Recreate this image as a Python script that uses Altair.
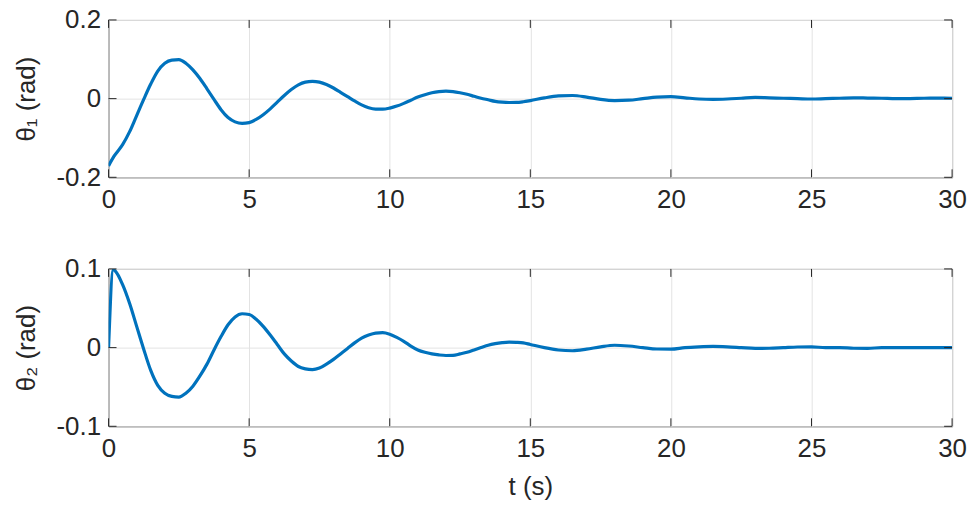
import altair as alt
import pandas as pd

# ---- data ----
t1 = [0, 0.19, 0.5, 0.75, 1.0, 1.25, 1.5, 1.75, 2.0, 2.25, 2.5, 2.75, 3.0, 3.25, 3.5, 3.75,
      4.0, 4.25, 4.5, 4.75, 5.0, 5.25, 5.5, 5.75, 6.0, 6.25, 6.5, 6.75, 7.0, 7.25, 7.5, 7.75,
      8.0, 8.25, 8.5, 8.75, 9.0, 9.25, 9.5, 9.75, 10.0, 10.25, 10.5, 10.75, 11.0, 11.25, 11.5,
      11.75, 12.0, 12.25, 12.5, 12.75, 13.0, 13.25, 13.5, 13.75, 14.0, 14.25, 14.5, 14.75,
      15.0, 15.5, 16.0, 16.5, 17.0, 17.5, 18.0, 18.5, 19.0, 19.5, 20.0, 20.5, 21.0, 21.5,
      22.0, 22.5, 23.0, 23.5, 24.0, 24.5, 25.0, 25.5, 26.0, 26.5, 27.0, 27.5, 28.0, 28.5,
      29.0, 29.5, 30.0]
theta1 = [-0.171, -0.147, -0.117, -0.084, -0.043, -0.002, 0.037, 0.070, 0.090, 0.098, 0.099,
          0.090, 0.073, 0.051, 0.025, -0.002, -0.028, -0.048, -0.059, -0.063, -0.061, -0.053,
          -0.041, -0.026, -0.009, 0.008, 0.023, 0.035, 0.042, 0.044, 0.042, 0.036, 0.027,
          0.016, 0.005, -0.006, -0.016, -0.023, -0.0265, -0.0268, -0.024, -0.019, -0.012,
          -0.004, 0.004, 0.010, 0.015, 0.018, 0.019, 0.018, 0.015, 0.011, 0.006, 0.001,
          -0.003, -0.007, -0.009, -0.0098, -0.0097, -0.008, -0.005, 0.002, 0.007, 0.008, 0.004,
          -0.002, -0.005, -0.004, 0.000, 0.004, 0.005, 0.002, -0.001, -0.002, -0.001, 0.001,
          0.003, 0.002, 0.001, 0.000, -0.001, 0.000, 0.001, 0.002, 0.0015, 0.001, 0.000, 0.0002,
          0.001, 0.0012, 0.001]

t2 = [0, 0.17, 0.25, 0.5, 0.75, 1.0, 1.25, 1.5, 1.75, 2.0, 2.25, 2.5, 2.75, 3.0, 3.25, 3.5,
      3.75, 4.0, 4.25, 4.5, 4.75, 5.0, 5.25, 5.5, 5.75, 6.0, 6.25, 6.5, 6.75, 7.0, 7.25, 7.5,
      7.75, 8.0, 8.25, 8.5, 8.75, 9.0, 9.25, 9.5, 9.75, 10.0, 10.25, 10.5, 10.75, 11.0, 11.25,
      11.5, 11.75, 12.0, 12.25, 12.5, 12.75, 13.0, 13.25, 13.5, 13.75, 14.0, 14.25, 14.5,
      14.75, 15.0, 15.5, 16.0, 16.5, 17.0, 17.5, 18.0, 18.5, 19.0, 19.5, 20.0, 20.5, 21.0,
      21.5, 22.0, 22.5, 23.0, 23.5, 24.0, 24.5, 25.0, 25.5, 26.0, 26.5, 27.0, 27.5, 28.0,
      28.5, 29.0, 29.5, 30.0]
theta2 = [0.0, 0.099, 0.097, 0.080, 0.056, 0.027, -0.002, -0.029, -0.048, -0.058, -0.062,
          -0.063, -0.058, -0.049, -0.036, -0.021, -0.003, 0.014, 0.029, 0.039, 0.043, 0.042,
          0.036, 0.027, 0.016, 0.004, -0.008, -0.017, -0.024, -0.027, -0.028, -0.026, -0.021,
          -0.015, -0.008, -0.001, 0.006, 0.012, 0.016, 0.0185, 0.0190, 0.017, 0.013, 0.008,
          0.002, -0.003, -0.006, -0.008, -0.0093, -0.0100, -0.0098, -0.008, -0.006, -0.003,
          0.000, 0.003, 0.005, 0.0063, 0.0070, 0.0067, 0.006, 0.004, 0.000, -0.003, -0.004,
          -0.002, 0.001, 0.003, 0.002, 0.000, -0.0018, -0.002, 0.000, 0.001, 0.0015, 0.001,
          0.000, -0.001, -0.0008, 0.000, 0.0008, 0.001, 0.000, 0.000, -0.0008, -0.001, 0.000,
          0.000, 0.000, 0.000, 0.000, 0.000]

x_ticks = [0, 5, 10, 15, 20, 25, 30]
y1_ticks = [-0.2, 0, 0.2]
y2_ticks = [-0.1, 0, 0.1]

FONT = "Liberation Sans"
FS = 26
W, H = 847, 158
LINE = "#0072BD"
AX = "#262626"
TL = 8

label_expr = "datum.value == 0 ? '0' : (datum.value < 0 ? '-' : '') + format(abs(datum.value), '.1f')"


def panel(t, v, yticks, ydom, ytitle, show_xtitle):
    df = pd.DataFrame({"t": t, "v": v})
    xt = pd.DataFrame({"t": x_ticks})
    yt = pd.DataFrame({"v": yticks})
    xscale = alt.Scale(domain=[0, 30], nice=False)
    yscale = alt.Scale(domain=ydom, nice=False)
    xaxis = alt.Axis(values=x_ticks, ticks=False, domain=False, grid=True,
                     gridColor="#e3e3e3", gridWidth=1, labelPadding=9,
                     labelFont=FONT, labelFontSize=FS, labelColor=AX,
                     title="t (s)" if show_xtitle else None,
                     titleFont=FONT, titleFontSize=FS, titleFontWeight="normal",
                     titleColor=AX, titlePadding=12, labelFlush=False)
    yaxis = alt.Axis(values=yticks, ticks=False, domain=False, grid=True,
                     gridColor="#e3e3e3", gridWidth=1, labelPadding=8,
                     labelFont=FONT, labelFontSize=FS, labelColor=AX,
                     labelExpr=label_expr, title=ytitle,
                     titleFont=FONT, titleFontSize=FS, titleFontWeight="normal",
                     titleColor=AX, titlePadding=17)
    line = alt.Chart(df).mark_line(color=LINE, strokeWidth=3.2, interpolate="monotone",
                                   clip=True).encode(
        x=alt.X("t:Q", scale=xscale, axis=xaxis),
        y=alt.Y("v:Q", scale=yscale, axis=yaxis),
    )
    tb = alt.Chart(xt).mark_rule(color=AX, strokeWidth=1).encode(
        x=alt.X("t:Q", scale=xscale), y=alt.value(H), y2=alt.value(H - TL))
    tt = alt.Chart(xt).mark_rule(color=AX, strokeWidth=1).encode(
        x=alt.X("t:Q", scale=xscale), y=alt.value(0), y2=alt.value(TL))
    yl = alt.Chart(yt).mark_rule(color=AX, strokeWidth=1).encode(
        y=alt.Y("v:Q", scale=yscale), x=alt.value(0), x2=alt.value(TL))
    yr = alt.Chart(yt).mark_rule(color=AX, strokeWidth=1).encode(
        y=alt.Y("v:Q", scale=yscale), x=alt.value(W), x2=alt.value(W - TL))
    return alt.layer(line, tb, tt, yl, yr).properties(width=W, height=H)


top = panel(t1, theta1, y1_ticks, [-0.2, 0.2], "θ₁  (rad)", False)
bot = panel(t2, theta2, y2_ticks, [-0.1, 0.1], "θ₂  (rad)", True)

chart = alt.vconcat(top, bot, spacing=42).configure_view(
    stroke=AX, strokeWidth=1
).properties(
    padding={"left": 12, "top": 5, "right": 5, "bottom": 5},
    background="white",
)

chart.save("out.html", embed_options={"renderer": "svg", "actions": False})
